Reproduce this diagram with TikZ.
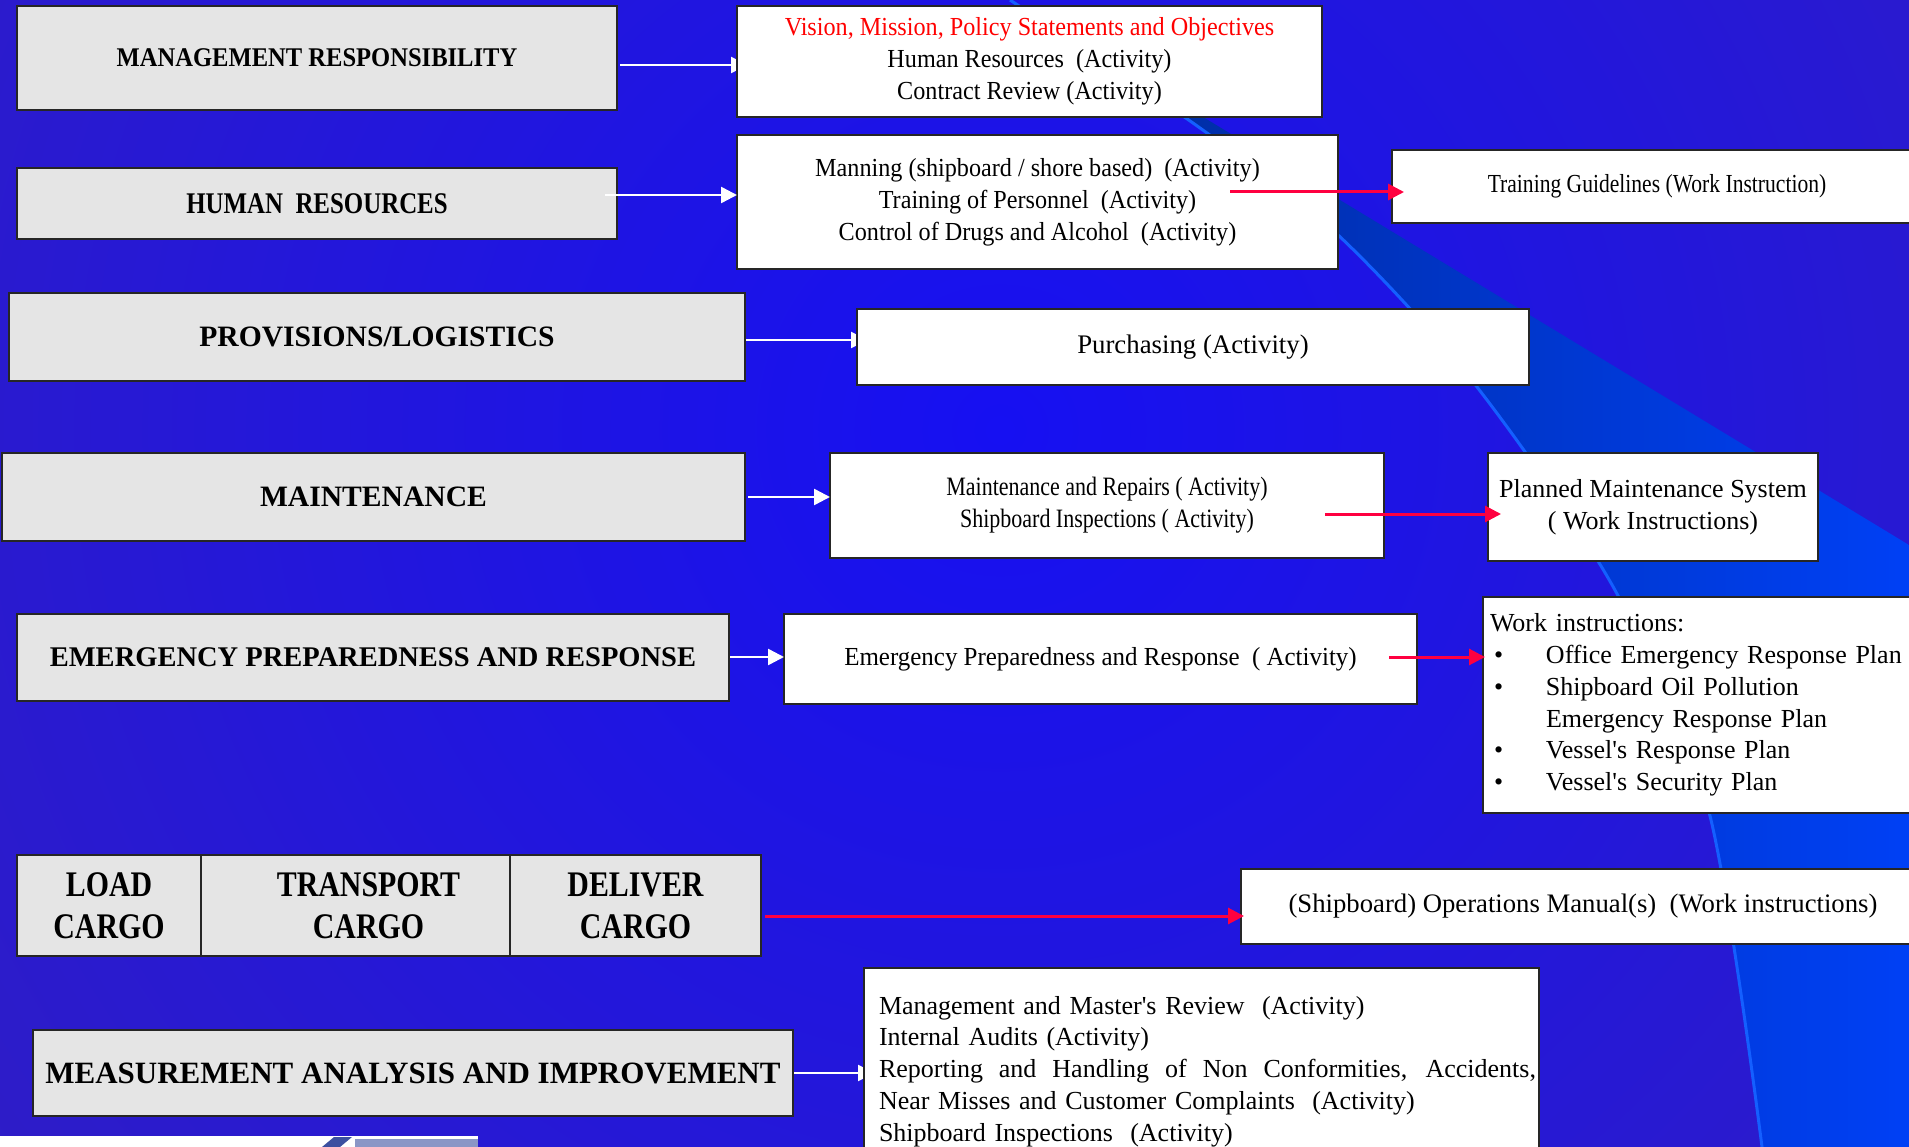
\documentclass[tikz,border=0pt]{standalone}
\usepackage{fontspec}
\setmainfont{Liberation Serif}
\newfontfamily\slightfont[FakeStretch=0.93]{Liberation Serif}
\newfontfamily\mediumfont[FakeStretch=0.96]{Liberation Serif}
\newfontfamily\narrowfont[FakeStretch=0.91]{Liberation Serif}
\newfontfamily\tightfont[FakeStretch=0.83]{Liberation Serif}
\usepackage{xcolor}
\usepackage{tikz}
\usetikzlibrary{arrows.meta,positioning}
\definecolor{slidepurple}{RGB}{52,32,188}
\definecolor{slideblue}{RGB}{22,16,242}
\definecolor{banddark}{RGB}{0,42,150}
\definecolor{bandbright}{RGB}{0,64,245}
\definecolor{bandedge}{RGB}{20,95,255}
\definecolor{titlegray}{RGB}{229,229,229}
\definecolor{linkred}{RGB}{255,0,64}
\definecolor{logoblue}{RGB}{60,80,160}
\pgfdeclarelayer{back}\pgfdeclarelayer{links}\pgfsetlayers{back,links,main}

\begin{document}
\begin{tikzpicture}[x=1pt,y=-1pt,graybox/.style={draw=black!85,line width=1.5pt,fill=titlegray,anchor=north west,outer sep=0pt,align=center,font=\bfseries\fontsize{29.6}{34}\selectfont},whitebox/.style={draw=black!85,line width=1.5pt,fill=white,anchor=north west,outer sep=0pt,align=center,font=\fontsize{26}{31.8}\selectfont},cargobox/.style={graybox,minimum height=101pt,font=\tightfont\bfseries\fontsize{36}{42}\selectfont},warr/.style={-{Triangle[length=16pt,width=16pt]},white,line width=2.5pt},rarr/.style={-{Triangle[length=16pt,width=16pt]},linkred,line width=3pt}]
\useasboundingbox (0,0) rectangle (1909,1147);
\begin{pgfonlayer}{back}
\begin{scope}
\clip (0,0) rectangle (1909,1147);
\fill[slidepurple] (0,0) rectangle (1909,1147);
\shade[inner color=slideblue,outer color=slidepurple] (1000,430) circle [radius=1560pt];
\shade[left color=banddark,right color=bandbright] (1010,0) -- (1909,545) -- (1909,1147) -- (1762,1147) -- plot[smooth] coordinates {(1762,1147) (1709,812) (1616,592) (1477,387) (1337,234) (1200,128) (1010,0)} -- cycle;
\draw[bandedge,line width=3pt] plot[smooth] coordinates {(1762,1147) (1709,812) (1616,592) (1477,387) (1337,234) (1200,128) (1010,0)};
\end{scope}
\end{pgfonlayer}
\node[graybox,minimum width=600pt,minimum height=104pt,font=\narrowfont\bfseries\fontsize{27}{32}\selectfont] (mgmt) at (17,6) {MANAGEMENT RESPONSIBILITY};
\node[whitebox,minimum width=585pt,minimum height=111pt,font=\slightfont\fontsize{26}{31.8}\selectfont] (vision) at (737,6) {\textcolor{red}{Vision, Mission, Policy Statements and Objectives}\\Human Resources\ \ (Activity)\\Contract Review (Activity)};
\node[graybox,minimum width=600pt,minimum height=71pt,font=\tightfont\bfseries\fontsize{30}{34}\selectfont] (hr) at (17,168) {HUMAN\ \ RESOURCES};
\node[whitebox,minimum width=601pt,minimum height=134pt,font=\slightfont\fontsize{26}{31.8}\selectfont] (manning) at (737,135) {Manning (shipboard / shore based)\ \ (Activity)\\Training of Personnel\ \ (Activity)\\Control of Drugs and Alcohol\ \ (Activity)};
\node[whitebox,minimum width=530pt,minimum height=73pt,font=\tightfont\fontsize{26}{31.8}\selectfont] (training) at (1392,150) {Training Guidelines (Work Instruction)};
\node[graybox,minimum width=736pt,minimum height=88pt] (prov) at (9,293) {PROVISIONS/LOGISTICS};
\node[whitebox,minimum width=672pt,minimum height=76pt,font=\fontsize{26.8}{31.8}\selectfont] (purch) at (857,309) {Purchasing (Activity)};
\node[graybox,minimum width=743pt,minimum height=88pt] (maint) at (2,453) {MAINTENANCE};
\node[whitebox,minimum width=554pt,minimum height=105pt,font=\tightfont\fontsize{26.5}{31.8}\selectfont] (repairs) at (830,453) {Maintenance and Repairs ( Activity)\\Shipboard Inspections ( Activity)};
\node[whitebox,minimum width=330pt,minimum height=108pt] (pms) at (1488,453) {Planned Maintenance System\\( Work Instructions)};
\node[graybox,minimum width=712pt,minimum height=87pt,font=\bfseries\fontsize{28.5}{34}\selectfont] (emerg) at (17,614) {EMERGENCY PREPAREDNESS AND RESPONSE};
\node[whitebox,minimum width=633pt,minimum height=90pt,font=\mediumfont\fontsize{26}{31.8}\selectfont] (epr) at (784,614) {Emergency Preparedness and Response\ \ ( Activity)};
\node[whitebox,align=left,text width=440pt,inner xsep=7pt,minimum height=216pt] (wi) at (1483,597) {Work instructions:\\\makebox[56pt][l]{\hspace{4pt}\textbullet}Office Emergency Response Plan\\\makebox[56pt][l]{\hspace{4pt}\textbullet}Shipboard Oil Pollution\\\hspace*{56pt}Emergency Response Plan\\\makebox[56pt][l]{\hspace{4pt}\textbullet}Vessel\textquotesingle s Response Plan\\\makebox[56pt][l]{\hspace{4pt}\textbullet}Vessel\textquotesingle s Security Plan};
\node[cargobox,minimum width=184pt] (load) at (17,855) {LOAD\\CARGO};
\node[cargobox,anchor=west,minimum width=309pt,right=0pt of load] (transport) {\hspace*{26pt}TRANSPORT\\\hspace*{26pt}CARGO};
\node[cargobox,anchor=west,minimum width=251pt,right=0pt of transport] (deliver) {DELIVER\\CARGO};
\node[whitebox,minimum width=684pt,minimum height=75pt,font=\fontsize{26.7}{31.8}\selectfont] (opsman) at (1241,869) {(Shipboard) Operations Manual(s)\ \ (Work instructions)};
\node[graybox,minimum width=760pt,minimum height=86pt,font=\bfseries\fontsize{31}{34}\selectfont] (meas) at (33,1030) {MEASUREMENT ANALYSIS AND IMPROVEMENT};
\node[whitebox,align=left,text width=645pt,inner xsep=15pt,minimum height=207pt] (review) at (864,968) {Management and Master\textquotesingle s Review\ \ (Activity)\\Internal Audits (Activity)\\\makebox[657pt][s]{\spaceskip=6.5pt plus 20pt Reporting and Handling of Non Conformities, Accidents,}\\Near Misses and Customer Complaints\ \ (Activity)\\Shipboard Inspections\ \ (Activity)};
\begin{pgfonlayer}{links}
\draw[warr,shorten >=-10pt] ([xshift=3pt,yshift=-7pt]mgmt.east) coordinate (w1) -- (w1 -| vision.west);
\draw[warr,shorten >=-10pt] ([yshift=-3pt]prov.east) coordinate (w3) -- (w3 -| purch.west);
\draw[warr,shorten >=-10pt] ([xshift=1pt]meas.east) coordinate (w7) -- (w7 -| review.west);
\end{pgfonlayer}
\draw[warr] ([xshift=-12pt,yshift=8.5pt]hr.east) coordinate (w2) -- (w2 -| manning.west);
\draw[warr] ([xshift=3pt]maint.east) coordinate (w4) -- (w4 -| repairs.west);
\draw[warr] ([xshift=1pt,yshift=0.5pt]emerg.east) coordinate (w5) -- (w5 -| epr.west);
\draw[rarr,shorten >=-12pt] ([xshift=-108pt,yshift=10pt]manning.east) coordinate (r1) -- (r1 -| training.west);
\draw[rarr,shorten >=-13pt] ([xshift=-59pt,yshift=-8.5pt]repairs.east) coordinate (r2) -- (r2 -| pms.west);
\draw[rarr,shorten >=-2pt] ([xshift=-28pt,yshift=2pt]epr.east) coordinate (r3) -- (r3 -| wi.west);
\draw[rarr,shorten >=-3pt] ([xshift=4pt,yshift=-10.5pt]deliver.east) coordinate (r4) -- (r4 -| opsman.west);
\fill[white] (0,1136) rectangle (478,1147);
\fill[logoblue] (322,1147) -- (334,1137) -- (352,1137) -- (340,1147) -- cycle;
\fill[logoblue!60] (355,1139) rectangle (478,1147);
\end{tikzpicture}
\end{document}
